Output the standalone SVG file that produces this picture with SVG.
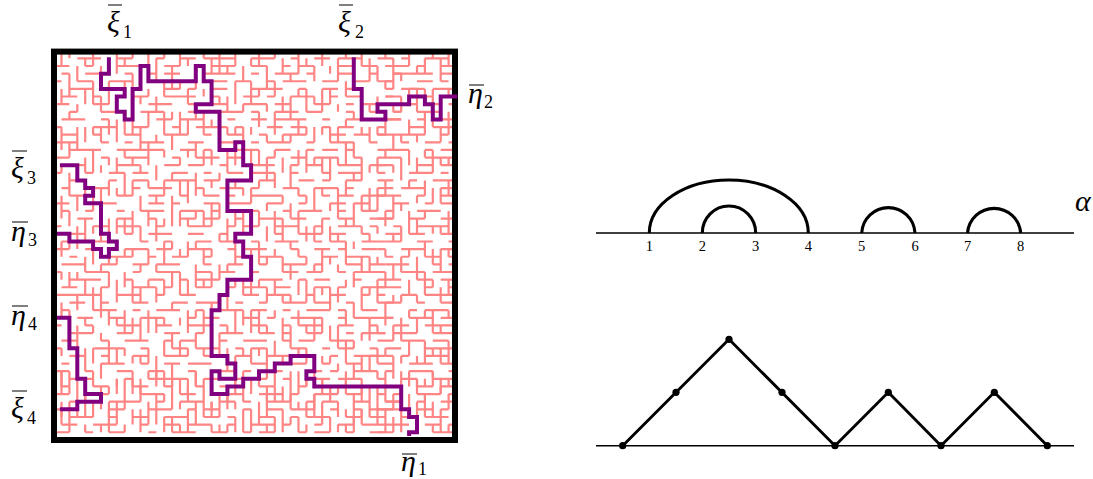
<svg xmlns="http://www.w3.org/2000/svg" width="1093" height="479" viewBox="0 0 1093 479">
<style>
.m{fill:none;stroke:#ff8484;stroke-width:2.2;vector-effect:non-scaling-stroke}
.p{fill:none;stroke:#800080;stroke-width:4;stroke-linejoin:miter;vector-effect:non-scaling-stroke}
.b{fill:none;stroke:#000;stroke-width:6}
.l{fill:none;stroke:#000;stroke-width:1.5}
.a{fill:none;stroke:#000;stroke-width:3.1}
.e{fill:none;stroke:#000;stroke-width:2.9}
.d{fill:#000}
.o{stroke:#000;stroke-width:1}
text{font-family:"Liberation Serif","DejaVu Serif",serif;fill:#000}
.v{font-style:italic;font-size:30px}
.s{font-size:18px}
.n{font-size:14.5px;text-anchor:middle}
</style>
<defs><clipPath id="c"><rect x="54" y="51" width="401" height="389"/></clipPath></defs>
<g id="maze" clip-path="url(#c)"><g transform="translate(61.5 58.37) scale(7.9 7.63)">
<path class="m" d="M2 0h3m2 0h2m3 0h1m2 0h2m1 0h4m2 0h3m2 0h1m2 0h2m1 0h3m2 0h2m1 0h1m2 0h3
M-1 1h2m2 0h1m3 0h3m3 0h2m2 0h1m1 0h3m2 0h2m2 0h1m1 0h2m3 0h2m1 0h2m1 0h3
M0 2h1m2 0h2m3 0h1m2 0h1m1 0h2m3 0h4m2 0h1m2 0h3m1 0h1m3 0h2m2 0h1m2 0h2
M-1 3h1m2 0h2m2 0h3m2 0h1m3 0h1m2 0h3m1 0h2m2 0h1m1 0h3m2 0h2m2 0h2m2 0h1
M1 4h3m5 0h1m3 0h2m1 0h1m2 0h2m3 0h4m2 0h1m2 0h2m1 0h2m3 0h1m1 0h3
M0 5h2m2 0h1m4 0h2m2 0h4m2 0h1m3 0h2m1 0h1m2 0h3m2 0h1m1 0h2m3 0h2
M-1 6h2m3 0h2m5 0h3m2 0h1m2 0h2m2 0h3m1 0h2m3 0h2m2 0h1m1 0h2m2 0h1
M1 7h1m3 0h2m3 0h3m3 0h2m2 0h3m1 0h1m2 0h3m1 0h2m3 0h1m2 0h2m1 0h1
M0 8h3m2 0h1m6 0h2m1 0h3m3 0h1m2 0h2m1 0h4m2 0h1m2 0h3m2 0h2
M-1 9h1m4 0h3m2 0h2m3 0h1m2 0h4m1 0h1m3 0h2m1 0h2m2 0h1m1 0h2m3 0h1
M0 10h2m2 0h1m3 0h2m3 0h3m2 0h1m2 0h2m2 0h1m2 0h3m3 0h2m1 0h2m1 0h3
M-1 11h3m3 0h1m2 0h1m1 0h3m3 0h2m2 0h2m2 0h1m1 0h3m2 0h1m2 0h3m2 0h1
M1 12h4m2 0h6m2 0h2m1 0h1m3 0h3m2 0h2m2 0h1m1 0h2m1 0h1m3 0h2
M-1 13h2m4 0h1m2 0h3m3 0h1m2 0h3m1 0h2m3 0h1m2 0h2m1 0h3m2 0h1m2 0h2
M0 14h3m4 0h3m3 0h2m1 0h2m2 0h1m3 0h3m2 0h1m1 0h2m2 0h3m1 0h2
M-1 15h1m3 0h1m2 0h2m1 0h2m3 0h2m2 0h1m2 0h2m1 0h3m2 0h1m3 0h1m1 0h3m2 0h1
M1 16h2m3 0h1m2 0h2m2 0h4m1 0h2m2 0h1m2 0h2m3 0h2m1 0h1m2 0h2m2 0h1
M0 17h1m3 0h2m3 0h1m1 0h3m3 0h1m2 0h3m1 0h1m3 0h2m2 0h3m1 0h1m3 0h2
M1 18h3m3 0h2m2 0h2m2 0h1m2 0h2m1 0h1m2 0h4m2 0h1m2 0h1m1 0h2m1 0h3
M-1 19h2m3 0h3m4 0h2m1 0h1m3 0h2m1 0h3m2 0h2m2 0h1m3 0h2m1 0h2
M0 20h1m2 0h1m3 0h1m2 0h3m2 0h3m1 0h1m3 0h2m3 0h1m1 0h3m2 0h1m2 0h2
M2 21h2m3 0h2m2 0h1m3 0h2m1 0h2m2 0h1m2 0h3m1 0h2m2 0h1m1 0h2m3 0h2
M-1 22h1m4 0h2m1 0h3m2 0h1m3 0h3m2 0h1m1 0h2m2 0h3m2 0h1m2 0h3m1 0h1
M1 23h2m5 0h1m2 0h3m2 0h2m2 0h1m1 0h2m3 0h1m2 0h3m1 0h2m2 0h1m2 0h2
M0 24h1m3 0h2m4 0h1m2 0h1m3 0h2m1 0h2m2 0h1m2 0h3m2 0h1m1 0h2m2 0h3
M-1 25h2m2 0h1m4 0h3m1 0h2m2 0h3m2 0h1m1 0h3m3 0h1m2 0h2m1 0h1m2 0h2
M1 26h1m4 0h3m2 0h1m2 0h2m2 0h1m3 0h2m1 0h3m2 0h1m2 0h2m1 0h3m2 0h1
M0 27h3m2 0h2m2 0h2m1 0h3m3 0h1m2 0h2m2 0h1m2 0h3m1 0h1m3 0h2m1 0h2
M-1 28h1m3 0h3m3 0h1m2 0h3m2 0h2m1 0h2m2 0h1m3 0h2m1 0h2m2 0h1m1 0h3
M1 29h4m3 0h1m2 0h2m2 0h1m1 0h3m2 0h1m2 0h3m2 0h1m1 0h2m3 0h1m2 0h2
M0 30h2m3 0h1m3 0h3m1 0h1m3 0h2m2 0h1m1 0h3m1 0h2m3 0h2m1 0h1m2 0h3
M-1 31h6m2 0h3m2 0h1m2 0h2m3 0h1m2 0h2m1 0h3m2 0h1m2 0h2m2 0h1m1 0h1
M1 32h2m2 0h1m3 0h2m3 0h2m1 0h3m2 0h1m2 0h1m2 0h3m1 0h2m2 0h1m3 0h2
M0 33h1m3 0h3m2 0h1m2 0h3m2 0h1m2 0h3m1 0h2m2 0h1m2 0h3m1 0h1m2 0h2
M2 34h2m2 0h2m2 0h3m3 0h1m1 0h2m3 0h2m1 0h1m2 0h4m2 0h1m1 0h2m2 0h1
M-1 35h1m3 0h1m3 0h3m2 0h2m2 0h3m1 0h1m3 0h2m2 0h1m1 0h3m2 0h2m2 0h1
M1 36h3m3 0h2m4 0h2m2 0h1m2 0h3m2 0h2m1 0h1m2 0h2m3 0h1m1 0h3m1 0h1
M0 37h2m3 0h1m2 0h3m2 0h1m1 0h2m3 0h1m2 0h3m2 0h1m1 0h2m2 0h3m3 0h2
M-1 38h1m4 0h4m2 0h1m3 0h2m1 0h3m2 0h1m1 0h2m3 0h2m2 0h1m1 0h2m2 0h1
M1 39h2m2 0h1m3 0h2m2 0h3m2 0h1m3 0h2m2 0h3m1 0h1m3 0h1m2 0h3m1 0h1
M0 40h1m4 0h3m2 0h1m2 0h2m1 0h3m2 0h1m2 0h2m1 0h4m2 0h1m2 0h2m2 0h2
M-1 41h2m2 0h1m3 0h2m2 0h2m3 0h1m2 0h3m1 0h1m2 0h2m3 0h2m1 0h1m2 0h3
M1 42h3m4 0h1m2 0h5m2 0h2m2 0h1m1 0h2m2 0h1m3 0h2m1 0h3m2 0h1
M0 43h1m3 0h2m3 0h2m2 0h1m3 0h1m2 0h3m2 0h2m3 0h1m1 0h2m2 0h1m1 0h3
M-1 44h2m4 0h1m4 0h3m2 0h2m2 0h1m1 0h2m2 0h3m1 0h1m2 0h3m1 0h2m2 0h1
M1 45h2m3 0h4m2 0h1m2 0h3m2 0h2m1 0h1m2 0h3m2 0h1m1 0h2m2 0h2m2 0h2
M-1 46h1m6 0h2m3 0h3m2 0h1m1 0h2m3 0h1m2 0h2m1 0h3m2 0h1m2 0h1m2 0h2
M1 47h3m2 0h1m2 0h2m2 0h3m2 0h2m1 0h1m3 0h2m2 0h1m1 0h3m2 0h2m1 0h2
M0 48h2m2 0h3m3 0h1m2 0h2m1 0h3m2 0h1m2 0h3m1 0h1m3 0h1m2 0h2m1 0h3
M-1 49h2m2 0h1m2 0h2m3 0h1m2 0h3m2 0h2m2 0h1m1 0h2m3 0h1m1 0h2m2 0h1m2 0h2"/>
<path class="m" d="M41 1h2m2 0h1m2 0h2M42 2h1m1 0h3m1 0h2M40 3h2m3 0h2m1 0h1M44 4h1m2 0h3M41 5h1m3 0h2
M43 6h2m2 0h1m1 0h1M42 7h1m2 0h3M41 8h2m2 0h1m2 0h2M44 9h2m1 0h3M40 10h1m2 0h3m2 0h1M43 11h1m2 0h2m1 0h1
M41 12h3m2 0h1m1 0h2M42 13h1m3 0h4M40 14h2m3 0h2m1 0h2M44 15h3m1 0h1M41 16h1m2 0h1m2 0h3M43 17h3m2 0h2
M40 18h3m2 0h1m2 0h3M42 19h2m2 0h1m1 0h2M41 20h1m3 0h3M39 21h3m2 0h2m2 0h2M42 22h1m2 0h4M44 23h2m2 0h2
M41 24h2m2 0h2m2 0h1M40 25h1m2 0h3m2 0h2M43 26h1m2 0h2m1 0h2M41 27h3m3 0h1m1 0h1M39 28h2m2 0h3m1 0h3
M42 29h1m2 0h2m1 0h2M40 30h3m3 0h1m2 0h1M43 31h2m1 0h4M41 32h2m2 0h1m2 0h2M44 33h1m1 0h3M39 34h3m2 0h3m1 0h2
M42 35h2m2 0h4M40 36h1m2 0h2m2 0h3M43 37h3m1 0h2M41 38h2m3 0h4M39 39h2m2 0h1m2 0h3M44 40h3m1 0h2
M41 41h1m2 0h3m2 0h1M43 42h2m2 0h3M40 43h3m2 0h2m1 0h2M42 44h1m2 0h3m1 0h1M41 45h2m2 0h1m2 0h2M39 46h4m2 0h2m1 0h1
M43 47h1m2 0h3M41 48h3m2 0h2m1 0h1M40 49h2m2 0h1m2 0h3"/>
<path class="m" d="M0 -1v2m0 3v2m0 3v3m0 2v1m0 3v3m0 3v2m0 2v1m0 3v2m0 4v1m0 2v3m0 2v2m0 2v1
M1 -1v1m0 2v3m0 2v1m0 3v2m0 2v3m0 2v2m0 2v1m0 3v2m0 3v1m0 2v2m0 3v2m0 2v1
M2 1v2m0 3v1m0 2v3m0 3v1m0 2v2m0 2v3m0 3v1m0 2v2m0 2v3m0 2v1m0 3v2
M3 0v1m0 3v2m0 3v2m0 2v2m0 2v1m0 3v3m0 2v2m0 1v2m0 3v1m0 3v3m0 2v2
M4 -1v2m0 2v3m0 3v1m0 2v3m0 3v2m0 2v1m0 2v2m0 3v3m0 2v1m0 2v2m0 2v1
M5 1v1m0 3v2m0 2v2m0 3v1m0 2v3m0 2v2m0 3v1m0 2v4m0 2v1m0 3v2m0 2v1
M6 3v3m0 2v2m0 3v1m0 2v2m0 3v3m0 2v1m0 1v2m0 3v2m0 2v3m0 3v1m0 2v2
M7 -1v3m0 3v1m0 2v3m0 2v2m0 2v1m0 3v2m0 3v1m0 2v3m0 2v1m0 3v2m0 2v2
M8 0v1m0 2v2m0 3v2m0 2v1m0 2v3m0 3v2m0 2v1m0 2v2m0 3v3m0 2v1m0 3v2
M9 -1v1m0 2v3m0 3v2m0 3v1m0 2v2m0 2v3m0 2v1m0 3v3m0 2v2m0 3v1m0 2v1
M10 1v2m0 2v1m0 3v3m0 2v1m0 3v2m0 2v2m0 3v1m0 2v2m0 2v3m0 2v1m0 2v3
M11 -1v2m0 3v1m0 2v2m0 2v3m0 2v1m0 3v2m0 3v2m0 2v1m0 3v3m0 2v2m0 1v1
M12 0v3m0 2v2m0 3v1m0 3v2m0 2v1m0 2v3m0 3v1m0 2v2m0 2v2m0 3v3m0 2v1
M13 -1v1m0 3v2m0 2v3m0 2v1m0 3v2m0 3v1m0 2v3m0 2v2m0 3v1m0 2v2m0 2v2
M14 1v3m0 3v1m0 2v2m0 3v1m0 2v4m0 2v1m0 3v2m0 2v1m0 3v2m0 2v3m0 2v1
M15 -1v2m0 2v1m0 3v3m0 3v1m0 2v2m0 2v2m0 3v1m0 2v3m0 3v1m0 2v2m0 3v2
M16 0v1m0 3v2m0 2v2m0 2v1m0 3v3m0 2v1m0 2v2m0 3v2m0 2v3m0 2v1m0 3v2
M17 2v2m0 3v1m0 3v2m0 2v3m0 2v1m0 3v1m0 2v3m0 3v1m0 2v2m0 3v2m0 2v1
M18 -1v1m0 4v1m0 2v3m0 2v2m0 3v1m0 2v2m0 3v2m0 2v1m0 3v3m0 2v1m0 3v2
M19 0v2m0 6v1m0 3v2m0 2v1m0 2v3m0 3v1m0 2v2m0 2v3m0 2v2m0 3v1m0 2v1
M20 -1v3m0 3v1m0 4v2m0 3v1m0 3v2m0 2v1m0 3v2m0 2v2m0 3v3m0 2v1m0 2v1
M21 1v1m0 3v2m0 2v1m0 2v3m0 3v1m0 2v3m0 3v1m0 3v2m0 2v1m0 2v3m0 2v2
M22 -1v2m0 2v3m0 3v1m0 2v2m0 2v1m0 3v2m0 2v3m0 2v1m0 3v3m0 3v1m0 2v2
M23 1v2m0 3v1m0 2v2m0 6v1m0 2v3m0 2v1m0 3v2m0 2v2m0 3v1m0 2v3m0 2v1
M24 0v1m0 2v3m0 3v1m0 2v3m0 2v2m0 3v1m0 2v1m0 3v2m0 2v3m0 2v2m0 2v1
M25 -1v2m0 3v1m0 2v2m0 3v2m0 2v1m0 3v2m0 2v3m0 2v1m0 3v3m0 2v1m0 2v2
M26 1v3m0 2v1m0 3v1m0 2v3m0 3v1m0 2v2m0 2v1m0 3v2m0 3v1m0 2v3m0 2v2
M27 -1v1m0 3v2m0 2v3m0 2v1m0 2v2m0 3v3m0 2v1m0 3v2m0 2v1m0 3v2m0 2v2
M28 0v2m0 3v2m0 3v1m0 2v2m0 3v1m0 2v3m0 2v2m0 3v1m0 2v3m0 2v1m0 3v1
M29 2v1m0 2v3m0 2v1m0 3v3m0 2v2m0 3v1m0 2v2m0 2v1m0 3v3m0 3v1m0 2v2
M30 -1v3m0 2v1m0 3v2m0 2v2m0 3v1m0 2v3m0 2v1m0 3v2m0 2v2m0 3v1m0 2v3
M31 0v1m0 3v3m0 2v1m0 2v3m0 3v1m0 3v2m0 2v1m0 2v3m0 3v1m0 2v2m0 2v1
M32 1v2m0 2v1m0 3v2m0 2v1m0 3v3m0 2v2m0 3v1m0 2v2m0 2v3m0 4v1m0 2v2
M33 -1v2m0 3v3m0 2v1m0 3v2m0 2v1m0 3v2m0 2v3m0 2v1m0 3v2m0 3v1m0 2v2
M34 1v1m0 2v2m0 3v2m0 2v3m0 3v1m0 2v2m0 2v1m0 3v3m0 2v2m0 2v1m0 3v2
M35 0v3m0 3v1m0 2v2m0 2v1m0 3v4m0 2v1m0 3v1m0 2v2m0 3v3m0 2v1m0 2v1
M36 -1v1m0 3v2m0 3v1m0 2v3m0 2v2m0 3v1m0 2v3m0 2v1m0 3v2m0 2v3m0 2v1
M37 7v1m0 3v2m0 2v1m0 3v3m0 2v1m0 3v2m0 2v2m0 3v1m0 2v2m0 3v1m0 1v1
M38 -1v2m0 8v1m0 3v3m0 2v2m0 2v1m0 3v2m0 2v3m0 3v1m0 2v2m0 2v2m0 1v1
M39 0v3m0 3v1m0 2v2m0 3v1m0 2v3m0 3v1m0 2v2m0 2v1m0 3v3m0 2v2m0 2v1
M40 1v2m0 2v2m0 2v1m0 3v2m0 2v3m0 2v1m0 3v1m0 2v3m0 3v1m0 2v2m0 3v2
M41 -1v1m0 3v1m0 3v3m0 2v1m0 3v2m0 2v2m0 3v1m0 2v2m0 2v3m0 3v1m0 2v2
M42 0v4m0 2v1m0 3v2m0 2v1m0 3v3m0 2v1m0 3v2m0 2v1m0 3v2m0 2v3m0 2v1
M43 2v1m0 2v2m0 3v1m0 2v3m0 3v1m0 2v2m0 2v2m0 3v1m0 2v3m0 2v1m0 3v2
M44 -1v2m0 3v1m0 3v2m0 2v2m0 2v1m0 3v3m0 2v1m0 3v2m0 2v1m0 3v2m0 2v2
M45 1v1m0 2v3m0 3v1m0 2v2m0 3v1m0 2v2m0 3v3m0 2v1m0 2v2m0 3v1m0 2v2
M46 0v2m0 2v1m0 2v3m0 2v1m0 3v2m0 2v1m0 3v2m0 2v3m0 2v1m0 3v3m0 2v1
M47 -1v1m0 4v2m0 2v1m0 3v3m0 2v2m0 3v1m0 2v2m0 2v1m0 3v3m0 2v1m0 2v1
M48 0v3m0 2v1m0 3v2m0 2v1m0 3v2m0 3v1m0 2v3m0 2v2m0 3v1m0 2v2m0 2v2
M49 -1v2m0 3v1m0 2v3m0 3v1m0 2v2m0 2v3m0 2v1m0 3v2m0 2v1m0 3v3m0 2v1"/>
<path class="m" d="M0 41v2m0 2v2M1 43v1m0 2v3M2 42v2m0 2v1M3 44v3m0 1v1M4 41v1m0 3v2M5 43v3m0 2v1M6 45v2m0 1v1M7 42v1m0 2v3M8 44v2m0 2v1M9 41v3m0 2v2
M10 43v1m0 2v3M11 45v3M12 41v2m0 2v3M13 44v1m0 2v2M14 42v3m0 2v2M15 45v1m0 2v1M16 43v2m0 1v3M17 41v2m0 3v2M18 44v3M19 42v1m0 2v2m0 1v1M20 45v2m0 1v1
M21 43v3m0 2v1M22 41v2m0 2v1m0 1v2M23 44v1m0 2v2M24 42v2m0 2v3M25 45v3M26 41v1m0 2v3m0 1v1M27 43v2m0 2v2M28 44v1m0 1v3M29 42v3m0 2v1M30 45v1m0 1v2
M31 41v2m0 2v2m0 1v1M32 44v3M33 42v1m0 2v3M34 43v2m0 2v2M35 45v2m0 1v1M36 41v3m0 2v1m0 1v1M37 44v1m0 1v3M38 42v2m0 2v2M39 44v3M40 41v1m0 3v3M41 43v2m0 1v3
M42 45v1m0 1v2M43 41v3m0 2v3M44 44v2M45 42v1m0 2v2m0 1v1M46 44v3M47 41v2m0 2v2m0 1v1M48 43v1m0 2v3M49 44v2m0 2v1"/>
</g></g>
<rect id="box" class="b" x="54" y="51.6" width="401" height="388.4"/>
<g id="connectors"><g transform="translate(61.5 58.37) scale(7.9 7.63)">
<path id="path-xi1-eta1" class="p" d="M6 -.15V2H5V4H8V5H7V7H8V8H9V4H10V1H11V3H17V1H18V3H19V6H17V7H20V12H22V11H23V14H24V16H21V20H24V23H22V24H23V26H24V29H21V31H20V33H19V39H21V40H22V42H20V41H19V44H21V43H23V42H25V41H27V40H29V39H32V41H31V42H32V43H43V46H44V47H45V49H44V49.5"/>
<path id="path-xi2-eta2" class="p" d="M37 -.15V4H38V8H41V7H40V6H44V5H46V6H47V8H48V5H50.1"/>
<path id="path-xi3-eta3" class="p" d="M-.2 14H2V16H3V17H4V18H3V19H5V23H6V24H7V25H6V26H5V25H4V24H1V23H-.57"/>
<path id="path-eta4-xi4" class="p" d="M-.57 34H1V38H2V42H3V44H5V45H2V46H-.2"/>
</g></g>
<g id="labels-left">
<g id="xi1"><line class="o" x1="108" y1="5" x2="122" y2="5"/><text class="v" x="107" y="32">ξ</text><text class="s" x="123" y="37.5">1</text></g>
<g id="xi2"><line class="o" x1="339" y1="5" x2="353" y2="5"/><text class="v" x="338" y="32">ξ</text><text class="s" x="355" y="37.5">2</text></g>
<g id="eta2"><line class="o" x1="469" y1="85" x2="484" y2="85"/><text class="v" x="468" y="103">η</text><text class="s" x="484" y="108">2</text></g>
<g id="xi3"><line class="o" x1="12" y1="151" x2="27" y2="151"/><text class="v" x="11" y="178">ξ</text><text class="s" x="27" y="184">3</text></g>
<g id="eta3"><line class="o" x1="12" y1="222" x2="28" y2="222"/><text class="v" x="11" y="241">η</text><text class="s" x="28" y="246">3</text></g>
<g id="eta4"><line class="o" x1="12" y1="306" x2="28" y2="306"/><text class="v" x="11" y="325">η</text><text class="s" x="28" y="330">4</text></g>
<g id="xi4"><line class="o" x1="12" y1="391" x2="27" y2="391"/><text class="v" x="11" y="418">ξ</text><text class="s" x="27" y="424">4</text></g>
<g id="eta1"><line class="o" x1="402" y1="454" x2="417" y2="454"/><text class="v" x="401" y="471">η</text><text class="s" x="418" y="475">1</text></g>
</g>
<g id="arc-diagram">
<line class="l" x1="596" y1="233" x2="1074" y2="233"/>
<path class="a" d="M649.3 233A79.5 53 0 0 1 808.3 233"/>
<path class="a" d="M702.3 233A26.7 27 0 0 1 755.7 233"/>
<path class="a" d="M861.7 233A26.7 27 0 0 1 915 233"/>
<path class="a" d="M967.5 233A26.7 27 0 0 1 1020.7 233"/>
<text class="n" x="649.3" y="251">1</text><text class="n" x="702.3" y="251">2</text><text class="n" x="755.7" y="251">3</text><text class="n" x="808.3" y="251">4</text><text class="n" x="861.7" y="251">5</text><text class="n" x="915" y="251">6</text><text class="n" x="967.5" y="251">7</text><text class="n" x="1020.7" y="251">8</text>
<text class="v" x="1075" y="211">α</text>
</g>
<g id="dyck-path">
<line class="l" x1="596" y1="445.7" x2="1074" y2="445.7"/>
<path class="e" d="M622.7 445.7L729 339.3L835 445.7L888.3 392.3L941 445.7L994.3 392.3L1047.3 445.7"/>
<circle class="d" cx="622.7" cy="445.7" r="3.6"/><circle class="d" cx="676" cy="392.3" r="3.6"/><circle class="d" cx="729" cy="339.3" r="3.6"/><circle class="d" cx="782" cy="392.3" r="3.6"/><circle class="d" cx="835" cy="445.7" r="3.6"/><circle class="d" cx="888.3" cy="392.3" r="3.6"/><circle class="d" cx="941" cy="445.7" r="3.6"/><circle class="d" cx="994.3" cy="392.3" r="3.6"/><circle class="d" cx="1047.3" cy="445.7" r="3.6"/>
</g>
</svg>
